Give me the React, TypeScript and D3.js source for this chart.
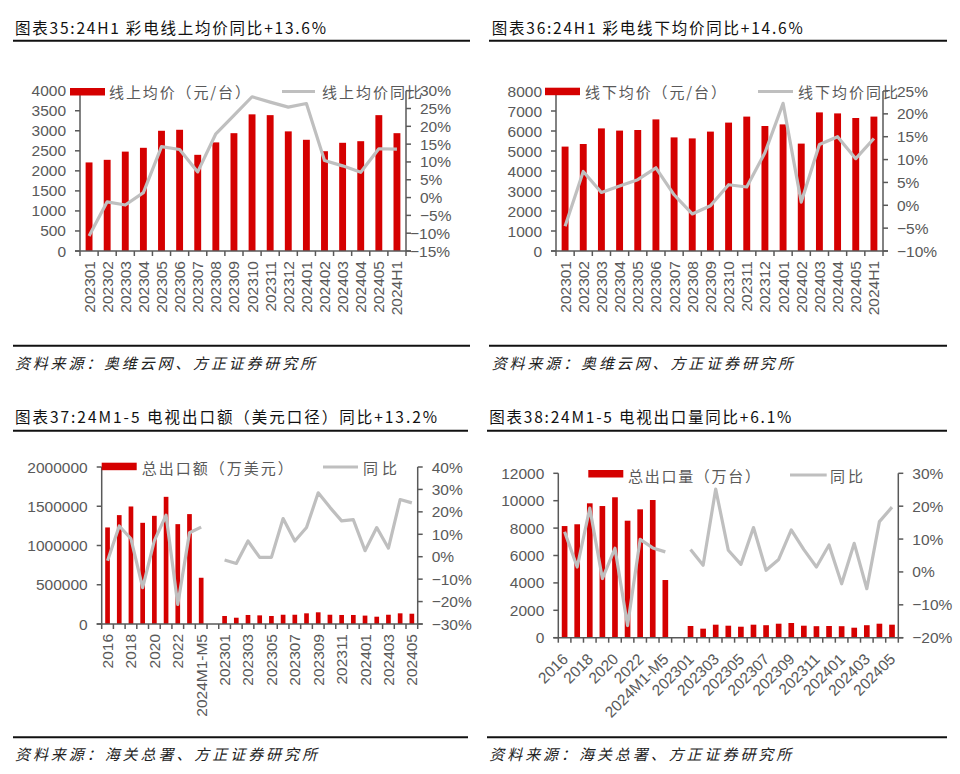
import React, { useEffect, useRef } from 'react'
import * as d3 from 'd3'

// 图表35 / 36: monthly online & offline average price
const priceCats = ['202301', '202302', '202303', '202304', '202305', '202306', '202307', '202308', '202309',
  '202310', '202311', '202312', '202401', '202402', '202403', '202404', '202405', '2024H1']
const onlinePrice = [2210, 2275, 2480, 2575, 3000, 3025, 2400, 2710, 2940, 3410, 3390, 2985, 2775, 2490, 2700, 2740, 3390, 2940]
const onlineYoy = [-10.8, -1.2, -2.1, 1.4, 14.3, 13.5, 7.2, 17.9, 23.1, 28.3, 26.8, 25.4, 26.4, 10.4, 8.9, 7.1, 13.7, 13.6]
const offlinePrice = [5220, 5350, 6130, 6020, 6050, 6580, 5680, 5630, 5970, 6420, 6720, 6250, 6330, 5370, 6930, 6880, 6650, 6720]
const offlineYoy = [-4.6, 7.4, 2.8, 4.2, 5.6, 8.2, 2.3, -1.9, -0.1, 4.5, 4.0, 11.5, 22.3, 0.7, 13.3, 15.0, 10.2, 14.6]

// 图表37 / 38: TV exports, yearly then monthly (one empty slot between)
const exportCats = ['2016', '2017', '2018', '2019', '2020', '2021', '2022', '2023', '2024M1-M5', '',
  '202301', '202302', '202303', '202304', '202305', '202306', '202307', '202308', '202309', '202310',
  '202311', '202312', '202401', '202402', '202403', '202404', '202405']
const exportValue = [1230000, 1387000, 1497000, 1289000, 1378000, 1620000, 1272000, 1400000, 589000, null,
  102000, 80000, 115000, 110000, 102000, 118000, 118000, 136000, 149000, 118000,
  115000, 115000, 107000, 93000, 118000, 136000, 131000]
const exportValueYoy = [-1.8, 13.7, 8.0, -13.8, 7.2, 18.5, -21.3, 10.7, 13.2, null,
  -1.5, -3.0, 7.0, -0.3, -0.3, 17.0, 7.0, 13.0, 28.5, 22.0,
  16.0, 16.5, 2.7, 13.0, 3.8, 25.5, 24.0]
const exportVolume = [8150, 8280, 9810, 9610, 10250, 8540, 9370, 10050, 4210, null,
  854, 660, 950, 876, 803, 950, 912, 1022, 1073, 876,
  840, 854, 840, 730, 912, 1022, 950]
const exportVolumeYoy = [12.2, 1.5, 19.4, -2.0, 7.2, -16.3, 9.9, 7.3, 6.1, null,
  6.8, 2.0, 25.2, 6.6, 2.3, 13.5, 0.5, 3.8, 12.8, 6.8,
  1.5, 8.2, -3.6, 8.7, -5.1, 15.3, 19.7]

const RED = '#D50000'
const GRAY_LINE = '#BFBFBF'
const TEXT_GRAY = '#595959'
const AXIS = '#595959'
const CJK = '"Noto Sans CJK SC", sans-serif'
const LATIN = '"Liberation Sans", Arial, sans-serif'

const fmtPct = (v: number) => (v < 0 ? '\u2212' + Math.abs(v) : String(v)) + '%'

const charts = [
  {
    title: '图表35:24H1 彩电线上均价同比+13.6%', titleX: 15, titleY: 27, titleLen: 311,
    ruleY: 40.7, ruleX1: 13, ruleX2: 470,
    left: 80, right: 406, top: 90.7, bottom: 251,
    cats: priceCats, bars: onlinePrice, line: onlineYoy,
    leftMax: 4000, leftStep: 500, rMin: -15, rMax: 30, rStep: 5, shiftLong: true,
    legend: { rx: 70, ry: 88, t1x: 109, t1: '线上均价（元/台）', t1Len: 141, lx1: 282, lx2: 315, t2x: 322, t2: '线上均价同比', t2Len: 100, cy: 91.5 },
    labelMode: 'v', every: 1, pad: 0.62,
    footY: 345.7, footTextY: 362, foot: '资料来源：奥维云网、方正证券研究所', footX: 15, footLen: 300,
  },
  {
    title: '图表36:24H1 彩电线下均价同比+14.6%', titleX: 491.7, titleY: 27, titleLen: 311,
    ruleY: 40.7, ruleX1: 489, ruleX2: 947,
    left: 556, right: 883, top: 91, bottom: 251,
    cats: priceCats, bars: offlinePrice, line: offlineYoy,
    leftMax: 8000, leftStep: 1000, rMin: -10, rMax: 25, rStep: 5, shiftLong: false,
    legend: { rx: 545, ry: 87.7, t1x: 585, t1: '线下均价（元/台）', t1Len: 141, lx1: 758, lx2: 793, t2x: 798, t2: '线下均价同比', t2Len: 100, cy: 91.5 },
    labelMode: 'v', every: 1, pad: 0.62,
    footY: 345.7, footTextY: 362, foot: '资料来源：奥维云网、方正证券研究所', footX: 491.7, footLen: 301,
  },
  {
    title: '图表37:24M1-5 电视出口额（美元口径）同比+13.2%', titleX: 15, titleY: 416, titleLen: 422,
    ruleY: 430.7, ruleX1: 13, ruleX2: 468,
    left: 101.7, right: 417.7, top: 467, bottom: 624,
    cats: exportCats, bars: exportValue, line: exportValueYoy,
    leftMax: 2000000, leftStep: 500000, rMin: -30, rMax: 40, rStep: 10, shiftLong: false,
    legend: { rx: 101.7, ry: 462.7, t1x: 141.7, t1: '总出口额（万美元）', t1Len: 151, lx1: 323, lx2: 358, t2x: 363, t2: '同比', t2Len: 34, cy: 467 },
    labelMode: 'v', every: 2, pad: 0.6,
    footY: 737.3, footTextY: 753.5, foot: '资料来源：海关总署、方正证券研究所', footX: 15, footLen: 302,
  },
  {
    title: '图表38:24M1-5 电视出口量同比+6.1%', titleX: 489.3, titleY: 416, titleLen: 302,
    ruleY: 430.7, ruleX1: 487, ruleX2: 947,
    left: 558.3, right: 898.3, top: 473.3, bottom: 637.7,
    cats: exportCats, bars: exportVolume, line: exportVolumeYoy,
    leftMax: 12000, leftStep: 2000, rMin: -20, rMax: 30, rStep: 10, shiftLong: false,
    legend: { rx: 588.3, ry: 470, t1x: 628, t1: '总出口量（万台）', t1Len: 132, lx1: 790, lx2: 826.7, t2x: 830, t2: '同比', t2Len: 33, cy: 475 },
    labelMode: 'd', every: 2, pad: 0.55,
    footY: 737.3, footTextY: 753.5, foot: '资料来源：海关总署、方正证券研究所', footX: 489.3, footLen: 302,
  },
]

const drawChart = (svg: any, c: any) => {
  const g = svg.append('g')
  const n = c.cats.length
  const x = d3.scaleBand<number>().domain(d3.range(n)).range([c.left, c.right]).paddingInner(c.pad).paddingOuter(c.pad / 2)
  const xc = (i: number) => (x(i) as number) + x.bandwidth() / 2
  const step = (c.right - c.left) / n
  const yL = d3.scaleLinear().domain([0, c.leftMax]).range([c.bottom, c.top])
  const yR = d3.scaleLinear().domain([c.rMin, c.rMax]).range([c.bottom, c.top])

  // title + rules
  g.append('text').attr('x', c.titleX).attr('y', c.titleY).attr('dominant-baseline', 'central')
    .attr('font-family', CJK).attr('font-size', 15.5).attr('fill', '#111')
    .attr('textLength', c.titleLen).attr('lengthAdjust', 'spacing').text(c.title)
  g.append('line').attr('x1', c.ruleX1).attr('x2', c.ruleX2).attr('y1', c.ruleY).attr('y2', c.ruleY)
    .attr('stroke', '#111').attr('stroke-width', 2)
  g.append('line').attr('x1', c.ruleX1).attr('x2', c.ruleX2).attr('y1', c.footY).attr('y2', c.footY)
    .attr('stroke', '#111').attr('stroke-width', 2)
  g.append('text').attr('x', c.footX).attr('y', c.footTextY).attr('dominant-baseline', 'central')
    .attr('font-family', CJK).attr('font-size', 15).attr('font-style', 'italic').attr('fill', '#222')
    .attr('textLength', c.footLen).attr('lengthAdjust', 'spacing').text(c.foot)

  // bars
  g.append('g').selectAll('rect')
    .data(c.bars.map((v: number | null, i: number) => ({ v, i })).filter((d: any) => d.v != null))
    .join('rect')
    .attr('x', (d: any) => x(d.i))
    .attr('width', x.bandwidth())
    .attr('y', (d: any) => yL(d.v))
    .attr('height', (d: any) => c.bottom - yL(d.v))
    .attr('fill', RED)

  // axes
  const leftTicks = d3.range(0, c.leftMax + c.leftStep / 2, c.leftStep)
  const rightTicks = d3.range(c.rMin, c.rMax + c.rStep / 2, c.rStep)
  const ax = g.append('g').attr('stroke', AXIS).attr('stroke-width', 1.5)
  ax.append('line').attr('x1', c.left).attr('x2', c.left).attr('y1', c.top).attr('y2', c.bottom)
  ax.append('line').attr('x1', c.right).attr('x2', c.right).attr('y1', c.top).attr('y2', c.bottom)
  ax.append('line').attr('x1', c.left - 5).attr('x2', c.right + 5).attr('y1', c.bottom).attr('y2', c.bottom)
  ax.selectAll('.lt').data(leftTicks).join('line').attr('class', 'lt')
    .attr('x1', c.left - 5).attr('x2', c.left).attr('y1', (d: number) => yL(d)).attr('y2', (d: number) => yL(d))
  ax.selectAll('.rt').data(rightTicks).join('line').attr('class', 'rt')
    .attr('x1', c.right).attr('x2', c.right + 5).attr('y1', (d: number) => yR(d)).attr('y2', (d: number) => yR(d))
  ax.selectAll('.xt').data(d3.range(n + 1)).join('line').attr('class', 'xt')
    .attr('x1', (i: number) => c.left + i * step).attr('x2', (i: number) => c.left + i * step)
    .attr('y1', c.bottom).attr('y2', c.bottom + 5)

  g.append('g').selectAll('text').data(leftTicks).join('text')
    .attr('x', c.left - 14).attr('y', (d: number) => yL(d)).attr('text-anchor', 'end').attr('dominant-baseline', 'central')
    .attr('font-family', LATIN).attr('font-size', 15.5).attr('fill', TEXT_GRAY).text((d: number) => String(d))
  g.append('g').selectAll('text').data(rightTicks).join('text')
    .attr('x', (d: number) => c.right + 14 - (c.shiftLong && fmtPct(d).length >= 4 ? 10 : 0))
    .attr('y', (d: number) => yR(d)).attr('dominant-baseline', 'central')
    .attr('font-family', LATIN).attr('font-size', 15.5).attr('fill', TEXT_GRAY).text((d: number) => fmtPct(d))

  // category labels
  const labelIdx = d3.range(n).filter((i) => i % c.every === 0 && c.cats[i] !== '')
  const xl = g.append('g').selectAll('text').data(labelIdx).join('text')
    .attr('font-family', LATIN).attr('font-size', 15.5).attr('fill', TEXT_GRAY)
    .attr('text-anchor', 'end').attr('dominant-baseline', 'central').text((i: number) => c.cats[i])
  if (c.labelMode === 'v') {
    xl.attr('transform', (i: number) => `translate(${xc(i)},${c.bottom + 10}) rotate(-90)`)
  } else {
    xl.attr('transform', (i: number) => `translate(${xc(i) + 0.5},${c.bottom + 18.5}) rotate(-45)`)
  }

  // yoy line
  const lineGen = d3.line<number | null>()
    .defined((d) => d != null)
    .x((_, i) => xc(i))
    .y((d) => yR(d as number))
  g.append('path').attr('d', lineGen(c.line)).attr('fill', 'none')
    .attr('stroke', GRAY_LINE).attr('stroke-width', 3.2).attr('stroke-linejoin', 'round')

  // legend
  const L = c.legend
  g.append('rect').attr('x', L.rx).attr('y', L.ry).attr('width', 35).attr('height', 7.5).attr('fill', RED)
  g.append('text').attr('x', L.t1x).attr('y', L.cy).attr('dominant-baseline', 'central')
    .attr('font-family', CJK).attr('font-size', 15).attr('fill', TEXT_GRAY)
    .attr('textLength', L.t1Len).attr('lengthAdjust', 'spacing').text(L.t1)
  g.append('line').attr('x1', L.lx1).attr('x2', L.lx2).attr('y1', L.cy).attr('y2', L.cy)
    .attr('stroke', GRAY_LINE).attr('stroke-width', 3.2)
  g.append('text').attr('x', L.t2x).attr('y', L.cy).attr('dominant-baseline', 'central')
    .attr('font-family', CJK).attr('font-size', 15).attr('fill', TEXT_GRAY)
    .attr('textLength', L.t2Len).attr('lengthAdjust', 'spacing').text(L.t2)
}

export default function App() {
  const svgRef = useRef<SVGSVGElement | null>(null)

  useEffect(() => {
    if (svgRef.current === null) {
      return
    }
    const svg = d3.select(svgRef.current)
    svg.selectAll('*').remove()
    svg.append('rect').attr('width', 960).attr('height', 774).attr('fill', '#fff')
    charts.forEach((c) => drawChart(svg, c))
  }, [])

  return (
    <svg ref={svgRef} width={960} height={774} viewBox="0 0 960 774"
      style={{ position: 'absolute', left: 0, top: 0, display: 'block' }} />
  )
}
